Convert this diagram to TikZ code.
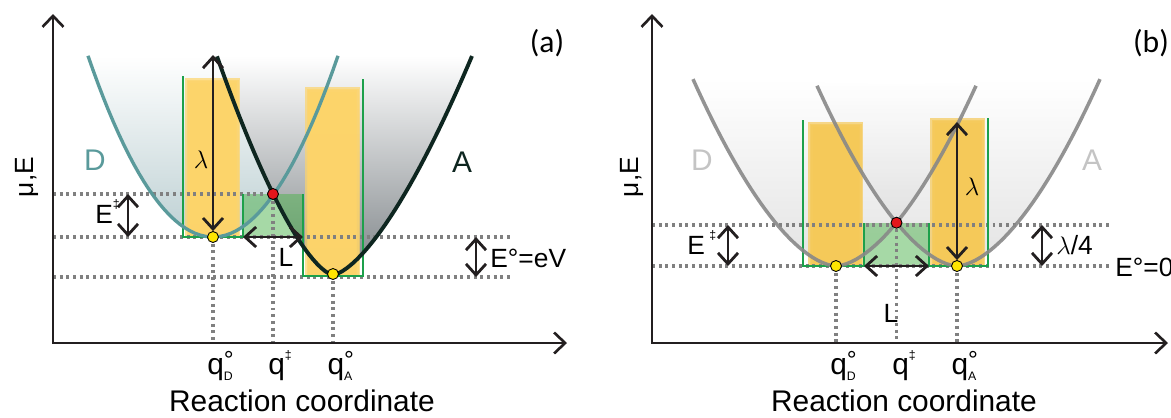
\documentclass[tikz,border=0pt]{standalone}
\usepackage{fontspec}
\setmainfont{Liberation Sans}
\newfontfamily\panelfont{Carlito}
\usetikzlibrary{arrows.meta}
\definecolor{axisgrey}{HTML}{231F20}
\definecolor{dotgrey}{HTML}{808080}
\definecolor{curveD}{HTML}{5A9A9B}
\definecolor{curveA}{HTML}{0E2620}
\definecolor{shadeD}{HTML}{BDD0D3}
\definecolor{shadeA}{HTML}{7E8488}
\definecolor{barA}{HTML}{FDD46A}
\definecolor{barB}{HTML}{F6C958}
\definecolor{wellgreen}{HTML}{1DA04B}
\definecolor{boxgreen}{HTML}{4DB34D}
\definecolor{curveB}{HTML}{888888}
\definecolor{shadeB}{HTML}{D0D0D0}
\definecolor{ghostgrey}{HTML}{C4C4C4}
\definecolor{dotyellow}{HTML}{FFE500}
\definecolor{dotred}{HTML}{E3161B}
\newcommand{\softbar}[5]{%
  \foreach \inset in {0,1.5,3,4.5}{\fill[#1, opacity=0.7] ({#2+\inset},{#3+\inset}) rectangle ({#4-\inset},{#5});}}
\newcommand{\qlab}[1]{q\rlap{\raisebox{3pt}{\fontsize{14}{14}\selectfont °}}\raisebox{-3.6pt}{\fontsize{7}{7}\selectfont #1}}
\newcommand{\qts}{q\raisebox{8pt}{\fontsize{7}{7}\selectfont ‡}}
\newcommand{\Ets}{E\raisebox{8pt}{\fontsize{7}{7}\selectfont ‡}}

\begin{document}
\begin{tikzpicture}[x=0.02cm, y=-0.02cm,
    axis/.style={line width=1.5pt, draw=axisgrey, line join=miter,
      {Straight Barb[length=2.2mm, width=4.2mm]}-{Straight Barb[length=2.2mm, width=4.2mm]}},
    guide/.style={draw=dotgrey, line width=1.8pt, dash pattern=on 1.7pt off 2.1pt},
    dim/.style={line width=1.6pt, draw=axisgrey,
      {Straight Barb[length=2.2mm, width=4mm]}-{Straight Barb[length=2.2mm, width=4mm]}},
    well/.style={draw=wellgreen, line width=1.2pt},
    ydot/.style={circle, draw=black, line width=0.5pt, fill=dotyellow, inner sep=0pt, minimum size=0.22cm},
    rdot/.style={ydot, fill=dotred},
    lbl/.style={font=\fontsize{17}{20}\selectfont, inner sep=0pt},
    slbl/.style={font=\fontsize{15}{18}\selectfont, inner sep=0pt}]
  \useasboundingbox (0,0) rectangle (1171,417);

  % ---------------- (a) ----------------
  \coordinate (oa) at (53,343);
  \coordinate (ya) at (53,14);
  \coordinate (xa) at (567,343);
  \coordinate (da) at (213,237);
  \coordinate (ta) at (273,194);
  \coordinate (aa) at (333,274);
  \coordinate (ra) at (513,277);
  % wells shading
  \shade[top color=white, bottom color=shadeD]
    plot[domain=-125:125, samples=50] ({213+\x},{237-0.0116*\x*\x}) -- cycle;
  \shade[top color=white, bottom color=shadeA]
    plot[domain=-116:0, samples=30] ({333+\x},{275-0.175*abs(\x)*sqrt(abs(\x))})
    -- plot[domain=0:139, samples=30] ({333+\x},{275-0.1336*\x*sqrt(\x)}) -- cycle;
  % bars
  \softbar{barA}{185}{78}{240}{237}
  \softbar{barA}{305}{87}{360}{275}
  \fill[boxgreen, opacity=0.5] (243,194) rectangle (303,237);
  % guides
  \draw[guide] (oa |- ta) -- (ta);
  \draw[guide] (oa |- da) -- (ra |- da);
  \draw[guide] (oa |- ra) -- (ra);
  \draw[guide] (da) -- (da |- oa);
  \draw[guide] (ta) -- (ta |- oa);
  \draw[guide] (aa) -- (aa |- oa);
  \draw[well] (183,76) -- (183,237) -- (243,237) -- (243,194);
  \draw[well] (303,194) -- (303,276) -- (363,276) -- (363,79);
  % curves D and A
  \draw[draw=curveD, line width=1.9pt]
    plot[domain=-125:125, samples=50] ({213+\x},{237-0.0116*\x*\x});
  \draw[draw=curveA, line width=2.2pt]
    plot[domain=-116:0, samples=30] ({333+\x},{275-0.175*abs(\x)*sqrt(abs(\x))})
    -- plot[domain=0:139, samples=30] ({333+\x},{275-0.1336*\x*sqrt(\x)});
  \draw[axis] (ya) -- (oa) -- (xa);
  % points
  \node[ydot] (dadot) at (da) {};
  \node[rdot] (tadot) at (ta) {};
  \node[ydot] (aadot) at (aa) {};
  % arrows
  \coordinate (lamtopa) at (213,55);
  \coordinate (ebara) at (128,0);
  \coordinate (evara) at (476,0);
  \coordinate (lla) at (243,237);
  \coordinate (lra) at (303,237);
  \draw[dim] (lamtopa) -- (dadot);
  \draw[dim] (ebara |- ta) -- (ebara |- da);
  \draw[dim] (lla) -- (lra);
  \draw[dim] (evara |- da) -- (evara |- ra);
  % labels
  \node[slbl] (lama) at (201,160) {$\lambda$};
  \node[slbl, anchor=base west] (ea) at (95,223) {\Ets};
  \node[slbl] (La) at (286,257) {L};
  \node[slbl, anchor=west] (eva) at (490,258) {E°=eV};
  \node[lbl, anchor=base] (qda) at (220,374) {\qlab{D}};
  \node[lbl, anchor=base] (qta) at (280,374) {\qts};
  \node[lbl, anchor=base] (qaa) at (340,374) {\qlab{A}};
  \node[lbl] (rca) at (302,401) {Reaction coordinate};
  \node[slbl, rotate=90] (mua) at (27,177) {μ,E};
  \node[lbl, text=curveD] (Dla) at (95,160) {D};
  \node[lbl, text=curveA] (Ala) at (462,162) {A};
  \node[font=\panelfont\fontsize{18}{20}\selectfont, inner sep=0pt] (pa) at (547,43) {(a)};

  % ---------------- (b) ----------------
  \coordinate (ob) at (652,343);
  \coordinate (yb) at (652,14);
  \coordinate (xb) at (1168,343);
  \coordinate (db) at (836,266);
  \coordinate (tb) at (896.5,222.7);
  \coordinate (ab) at (957,266);
  \coordinate (rb) at (1110,225);
  % wells shading
  \shade[top color=white, bottom color=shadeB, opacity=0.6]
    plot[domain=-143:140, samples=60] ({836+\x},{266-0.0405*(abs(\x)+0.01)^1.7}) -- cycle;
  \shade[top color=white, bottom color=shadeB, opacity=0.6]
    plot[domain=-140:143, samples=60] ({957+\x},{266-0.0405*(abs(\x)+0.01)^1.7}) -- cycle;
  % bars
  \softbar{barB}{808}{122}{863}{266}
  \softbar{barB}{930}{118}{985}{266}
  \fill[boxgreen, opacity=0.5] (864,223) rectangle (929,266);
  % guides
  \draw[guide] (ob |- rb) -- (rb);
  \draw[guide] (ob |- db) -- (rb |- db);
  \draw[guide] (db) -- (db |- ob);
  \draw[guide] (tb) -- (tb |- ob);
  \draw[guide] (ab) -- (ab |- ob);
  \draw[well] (803,120) -- (803,266) -- (864,266) -- (864,223);
  \draw[well] (929,223) -- (929,266) -- (988,266) -- (988,118);
  % curves D and A
  \draw[draw=curveB, line width=2pt, opacity=0.9]
    plot[domain=-143:140, samples=60] ({836+\x},{266-0.0405*(abs(\x)+0.01)^1.7});
  \draw[draw=curveB, line width=2pt, opacity=0.9]
    plot[domain=-140:143, samples=60] ({957+\x},{266-0.0405*(abs(\x)+0.01)^1.7});
  \draw[axis] (yb) -- (ob) -- (xb);
  % points
  \node[ydot] (dbdot) at (db) {};
  \node[rdot] (tbdot) at (tb) {};
  \node[ydot] (abdot) at (ab) {};
  % arrows
  \coordinate (lamtopb) at (957,122);
  \coordinate (ebarb) at (728,0);
  \coordinate (quarb) at (1042,0);
  \coordinate (llb) at (864,266);
  \coordinate (lrb) at (929,266);
  \draw[dim] (lamtopb) -- (abdot);
  \draw[dim] (ebarb |- rb) -- (ebarb |- db);
  \draw[dim] (llb) -- (lrb);
  \draw[dim] (quarb |- rb) -- (quarb |- db);
  % labels
  \node[slbl] (lamb) at (972,187) {$\lambda$};
  \node[slbl, anchor=base west] (eb) at (687,254) {E\,\raisebox{8pt}{\fontsize{7}{7}\selectfont ‡}};
  \node[slbl] (Lb) at (891,313) {L};
  \node[slbl, anchor=west] (qlb) at (1056,245) {$\lambda$/4};
  \node[slbl, anchor=west] (e0b) at (1115,267) {E°=0};
  \node[lbl, anchor=base] (qdb) at (843,374) {\qlab{D}};
  \node[lbl, anchor=base] (qtb) at (904,374) {\qts};
  \node[lbl, anchor=base] (qab) at (964,374) {\qlab{A}};
  \node[lbl] (rcb) at (904,401) {Reaction coordinate};
  \node[slbl, rotate=90] (mub) at (632,177) {μ,E};
  \node[lbl, text=ghostgrey] (Dlb) at (702,160) {D};
  \node[lbl, text=ghostgrey] (Alb) at (1092,160) {A};
  \node[font=\panelfont\fontsize{18}{20}\selectfont, inner sep=0pt] (pb) at (1151,43) {(b)};
\end{tikzpicture}
\end{document}
